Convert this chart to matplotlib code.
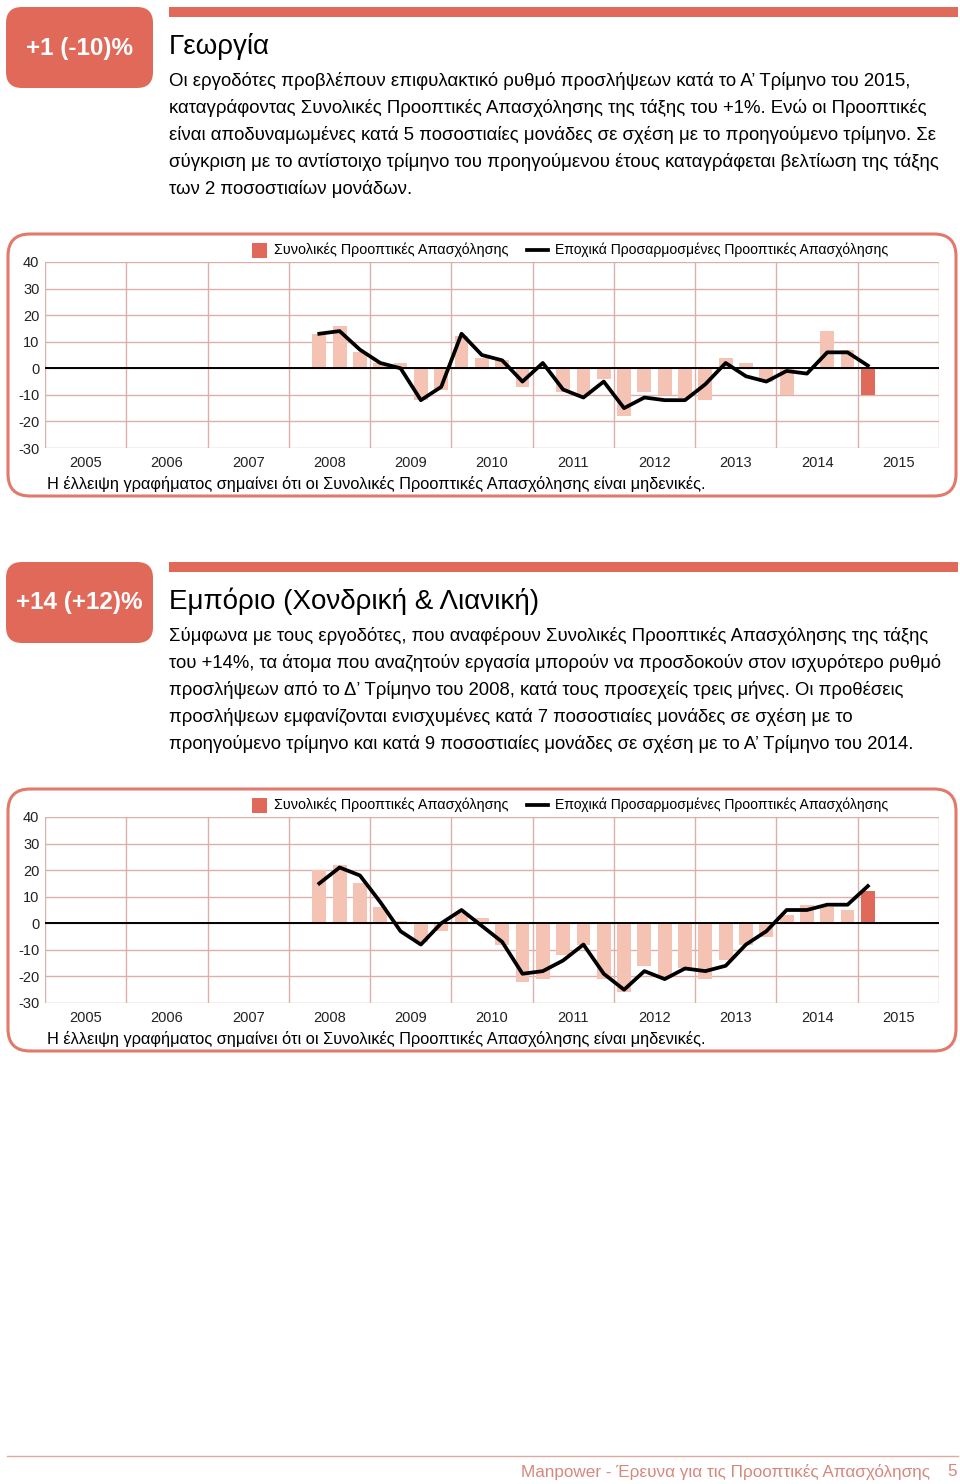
import numpy as np
import pandas as pd
import matplotlib
matplotlib.use("Agg")
import matplotlib.pyplot as plt
from matplotlib.patches import FancyBboxPatch, Rectangle
from matplotlib.lines import Line2D
from matplotlib.transforms import Affine2D

# quarters shown in both charts: 2008 Q2 ... 2015 Q1
quarters = pd.period_range("2008Q2", "2015Q1", freq="Q")
years = list(range(2005, 2016))

# Γεωργία
agri_net = [13, 16, 6, 2, 2, -12, -8, 12, 4, 3, -7, 0, -9, -10, -4, -18,
            -9, -10, -11, -12, 4, 2, -5, -10, 0, 14, 7, -10]
agri_sa = [13, 14, 7, 2, 0, -12, -7, 13, 5, 3, -5, 2, -8, -11, -5, -15,
           -11, -12, -12, -6, 2, -3, -5, -1, -2, 6, 6, 1]

# Εμπόριο
trade_net = [20, 22, 15, 6, 1, -7, -3, 4, 2, -8, -22, -21, -12, -8, -21, -26,
             -16, -20, -17, -21, -14, -8, -5, 3, 7, 6, 5, 12]
trade_sa = [15, 21, 18, 8, -3, -8, 0, 5, -1, -7, -19, -18, -14, -8, -19, -25,
            -18, -21, -17, -18, -16, -8, -3, 5, 5, 7, 7, 14]

yticks = [40, 30, 20, 10, 0, -10, -20, -30]

agri_badge = "+1 (-10)%"
agri_title = "Γεωργία"
agri_text = [
    "Οι εργοδότες προβλέπουν επιφυλακτικό ρυθμό προσλήψεων κατά το Α’ Τρίμηνο του 2015,",
    "καταγράφοντας Συνολικές Προοπτικές Απασχόλησης της τάξης του +1%. Ενώ οι Προοπτικές",
    "είναι αποδυναμωμένες κατά 5 ποσοστιαίες μονάδες σε σχέση με το προηγούμενο τρίμηνο. Σε",
    "σύγκριση με το αντίστοιχο τρίμηνο του προηγούμενου έτους καταγράφεται βελτίωση της τάξης",
    "των 2 ποσοστιαίων μονάδων.",
]
trade_badge = "+14 (+12)%"
trade_title = "Εμπόριο (Χονδρική & Λιανική)"
trade_text = [
    "Σύμφωνα με τους εργοδότες, που αναφέρουν Συνολικές Προοπτικές Απασχόλησης της τάξης",
    "του +14%, τα άτομα που αναζητούν εργασία μπορούν να προσδοκούν στον ισχυρότερο ρυθμό",
    "προσλήψεων από το Δ’ Τρίμηνο του 2008, κατά τους προσεχείς τρεις μήνες. Οι προθέσεις",
    "προσλήψεων εμφανίζονται ενισχυμένες κατά 7 ποσοστιαίες μονάδες σε σχέση με το",
    "προηγούμενο τρίμηνο και κατά 9 ποσοστιαίες μονάδες σε σχέση με το Α’ Τρίμηνο του 2014.",
]
leg_net = "Συνολικές Προοπτικές Απασχόλησης"
leg_sa = "Εποχικά Προσαρμοσμένες Προοπτικές Απασχόλησης"
note = "Η έλλειψη γραφήματος σημαίνει ότι οι Συνολικές Προοπτικές Απασχόλησης είναι μηδενικές."
footer = "Manpower - Έρευνα για τις Προοπτικές Απασχόλησης"

RED = "#e0695a"
LIGHT = "#f5c3b4"
GRID = "#dcb0aa"
BORDER = "#e2796b"

plt.rcParams["font.family"] = ["Liberation Sans", "DejaVu Sans"]
plt.rcParams["axes.unicode_minus"] = False

W, H = 960, 1484
fig = plt.figure(figsize=(W / 100, H / 100), dpi=100)
# pixel coords, y going down
px = Affine2D().scale(1 / W, -1 / H).translate(0, 1) + fig.transFigure


def section(top, badge, title, lines, body_size, net, sa):
    # badge + red bar + title + paragraph
    fig.patches.append(FancyBboxPatch((6, top), 147, 81, boxstyle="round,pad=0,rounding_size=16",
                                      fc=RED, ec="none", transform=px))
    fig.patches.append(Rectangle((169, top), 789, 10, fc=RED, ec="none", transform=px))
    fig.text(79, top + 41, badge, transform=px, color="white", fontsize=17.5,
             fontweight="bold", ha="center", va="center")
    fig.text(169, top + 39, title, transform=px, fontsize=20, va="center")
    for i, s in enumerate(lines):
        fig.text(169, top + 74 + 27 * i, s, transform=px, fontsize=body_size, va="center")

    # chart frame
    ctop = top + 227
    fig.patches.append(FancyBboxPatch((8, ctop), 948, 262, boxstyle="round,pad=0,rounding_size=22",
                                      fc="none", ec=BORDER, lw=2.2, transform=px))

    ax = fig.add_axes([45 / W, 1 - (ctop + 214) / H, 894 / W, 186 / H])
    x = quarters.year + (quarters.quarter - 0.5) / 4
    colors = [LIGHT] * (len(net) - 1) + [RED]
    ax.bar(x, net, width=0.17, color=colors, zorder=2)
    ax.plot(x, sa, color="black", lw=2.7, zorder=4)
    ax.axhline(0, color="black", lw=1.4, zorder=3)
    ax.set_xlim(2005, 2016)
    ax.set_ylim(-30, 40)
    ax.set_yticks(yticks)
    ax.set_xticks(range(2005, 2017))
    ax.set_xticklabels([])
    ax.set_xticks([y + 0.5 for y in years], [str(y) for y in years], minor=True)
    ax.grid(True, which="major", color=GRID, lw=1, zorder=0)
    ax.set_axisbelow(True)
    for sp in ax.spines.values():
        sp.set_visible(False)
    ax.tick_params(which="both", length=0, labelsize=10.5, colors="#222222")
    ax.tick_params(axis="y", pad=4)
    ax.tick_params(axis="x", which="minor", pad=6)

    # legend
    ly = ctop + 16
    fig.patches.append(Rectangle((252, ly - 7.5), 15, 15, fc=RED, ec="none", transform=px))
    fig.text(274, ly, leg_net, transform=px, fontsize=10.4, va="center")
    fig.lines.append(Line2D([527, 548], [ly, ly], color="black", lw=2.7, transform=px))
    fig.text(555, ly, leg_sa, transform=px, fontsize=10.1, va="center")

    fig.text(47, ctop + 250, note, transform=px, fontsize=11.75, va="center")


section(7, agri_badge, agri_title, agri_text, 13.4, agri_net, agri_sa)
section(562, trade_badge, trade_title, trade_text, 13.35, trade_net, trade_sa)

fig.lines.append(Line2D([7, 958], [1456, 1456], color="#dfaaa2", lw=1, transform=px))
fig.text(930, 1472, footer, transform=px, fontsize=12.3, color="#d8887b", ha="right", va="center")
fig.text(957, 1472, "5", transform=px, fontsize=12.3, color="#d8887b", ha="right", va="center")

fig.savefig("out.png", dpi=100)
